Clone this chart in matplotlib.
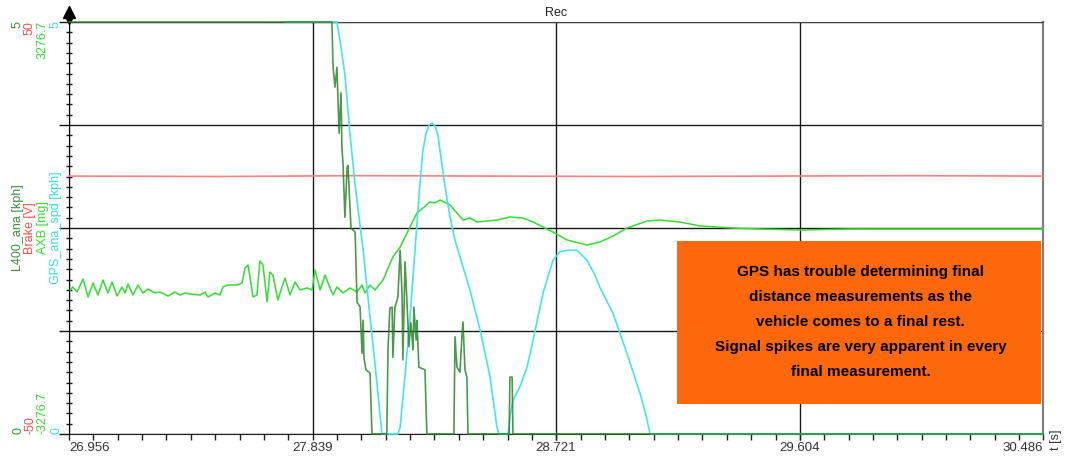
import matplotlib
matplotlib.use('Agg')
import matplotlib.pyplot as plt
from matplotlib.patches import Rectangle
from matplotlib.ticker import AutoMinorLocator, FixedLocator, NullFormatter

plt.rcParams['font.family'] = ['Liberation Sans', 'DejaVu Sans']

# ------------------------------------------------------------
# data
# ------------------------------------------------------------
x_ticklabels = ['26.956', '27.839', '28.721', '29.604', '30.486']

# L400_ana [kph]
l400_t = [26.956, 27.909, 27.913, 27.920, 27.927, 27.931, 27.935, 27.942, 27.945, 27.949,
          27.956, 27.964, 27.967, 27.978, 27.993, 28.000, 28.011, 28.018, 28.022, 28.025,
          28.032, 28.047, 28.054, 28.108, 28.112, 28.119, 28.127, 28.130, 28.137, 28.148,
          28.156, 28.163, 28.166, 28.174, 28.181, 28.188, 28.195, 28.203, 28.206, 28.214,
          28.217, 28.224, 28.246, 28.253, 28.351, 28.355, 28.362, 28.373, 28.380, 28.384,
          28.391, 28.398, 28.402, 28.551, 28.554, 28.562, 28.565, 30.486]
l400_v = [5.0, 5.0, 4.45, 4.21, 4.45, 4.05, 3.65, 4.14, 3.48, 3.29,
          2.63, 3.24, 3.26, 2.50, 2.45, 1.60, 1.54, 0.98, 1.38, 0.93,
          0.78, 0.74, 0.0, 0.0, 1.02, 1.53, 1.54, 0.93, 1.53, 1.66,
          2.23, 1.71, 0.90, 2.09, 1.59, 1.06, 1.35, 1.02, 1.54, 1.14,
          1.38, 0.81, 0.78, 0.0, 0.0, 1.18, 0.81, 0.75, 1.18, 1.36,
          0.78, 0.69, 0.0, 0.0, 0.69, 0.69, 0.0, 0.0]

# Brake [V]
brake_t = [26.956, 27.5, 28.0, 28.5, 29.0, 29.5, 30.0, 30.486]
brake_v = [12.6, 12.5, 12.7, 12.6, 12.5, 12.6, 12.7, 12.6]

# AXB [mg]
axb_t = [26.960, 26.970, 26.985, 27.007, 27.025, 27.043, 27.061, 27.079, 27.097, 27.112,
         27.130, 27.148, 27.159, 27.170, 27.188, 27.206, 27.224, 27.242, 27.268, 27.286,
         27.315, 27.340, 27.358, 27.376, 27.395, 27.431, 27.449, 27.460, 27.485, 27.503,
         27.514, 27.532, 27.565, 27.583, 27.594, 27.605, 27.623, 27.637, 27.648, 27.659,
         27.674, 27.684, 27.695, 27.713, 27.728, 27.739, 27.757, 27.775, 27.793, 27.819,
         27.837, 27.848, 27.866, 27.884, 27.895, 27.913, 27.927, 27.949, 27.974, 28.000,
         28.018, 28.029, 28.047, 28.065, 28.094, 28.130, 28.156, 28.181, 28.217, 28.239,
         28.264, 28.282, 28.301, 28.337, 28.362, 28.384, 28.409, 28.435, 28.471, 28.507,
         28.554, 28.601, 28.638, 28.710, 28.761, 28.833, 28.880, 28.928, 28.978, 29.051,
         29.098, 29.170, 29.243, 29.362, 29.460, 29.605, 29.787, 30.486]
axb_v = [-986, -938, -1018, -811, -1098, -875, -1066, -827, -1034, -859,
         -1082, -938, -1034, -891, -1066, -907, -1034, -970, -1034, -1018,
         -1082, -1018, -1066, -1034, -1050, -1066, -1018, -1098, -1034, -1066,
         -938, -907, -907, -875, -636, -589, -1098, -1066, -525, -589,
         -1177, -700, -748, -1145, -938, -795, -1066, -859, -986, -954,
         -986, -668, -986, -748, -875, -1066, -938, -1034, -954, -1018,
         -907, -1034, -907, -986, -827, -461, -302, -80, 239, 318,
         414, 398, 445, 366, 239, 127, 159, 95, 111, 127,
         175, 159, 95, -64, -191, -270, -223, -127, 0, 111,
         127, 95, 32, 0, -16, -32, -16, -16]

# GPS_ana_spd [kph]
gps_t = [27.739, 27.927, 27.938, 27.956, 27.974, 27.993, 28.022, 28.047, 28.069, 28.090,
         28.148, 28.156, 28.174, 28.192, 28.210, 28.228, 28.239, 28.250, 28.261, 28.272,
         28.282, 28.293, 28.300, 28.318, 28.337, 28.355, 28.373, 28.409, 28.446, 28.482,
         28.507, 28.514, 28.547, 28.558, 28.565, 28.590, 28.616, 28.638, 28.674, 28.710,
         28.735, 28.761, 28.797, 28.833, 28.862, 28.880, 28.927, 28.978, 29.025, 29.047,
         29.062, 30.486]
gps_v = [5.0, 5.0, 4.78, 4.36, 3.65, 3.02, 2.23, 1.42, 0.72, 0.0,
         0.0, 0.08, 0.72, 1.42, 2.23, 3.05, 3.45, 3.65, 3.75, 3.77,
         3.74, 3.63, 3.45, 3.02, 2.63, 2.35, 2.15, 1.75, 1.26, 0.69,
         0.08, 0.0, 0.0, 0.29, 0.41, 0.57, 0.81, 1.14, 1.71, 2.11,
         2.21, 2.23, 2.23, 2.11, 1.93, 1.78, 1.47, 0.98, 0.50, 0.23,
         0.0, 0.0]

channels = ['L400_ana [kph]', 'Brake [V]', 'AXB [mg]', 'GPS_ana_spd [kph]']
ranges = [(0, 5), (-50, 50), (-3276.7, 3276.7), (0, 5)]
line_colors = ['#1f801f', '#ff8080', '#33dd33', '#44e6e6']
label_colors = ['#3f8f3f', '#ff4d4d', '#33dd33', '#33e0e0']

note = ('GPS has trouble determining final\n'
        'distance measurements as the\n'
        'vehicle comes to a final rest.\n'
        'Signal spikes are very apparent in every\n'
        'final measurement.')

# ------------------------------------------------------------
# figure
# ------------------------------------------------------------
W, H = 1069, 459
fig = plt.figure(figsize=(W / 100, H / 100), dpi=100)
ax = fig.add_axes([69 / W, 25 / H, 974 / W, 412 / H])

x_ticks = [float(s) for s in x_ticklabels]
ax.set_xlim(x_ticks[0], x_ticks[-1])
ax.set_ylim(*ranges[0])

ax.set_xticks(x_ticks, x_ticklabels)
ax.xaxis.set_minor_locator(AutoMinorLocator(10))
lbls = ax.get_xticklabels()
lbls[0].set_ha('left')
lbls[-1].set_ha('right')
ax.tick_params(axis='x', which='both', direction='out', length=4, width=1,
               color='#222222', labelsize=9.5, labelcolor='#333333', pad=2)

y0, y1 = ranges[0]
ax.yaxis.set_major_locator(FixedLocator([y0 + k * (y1 - y0) / 4 for k in range(5)]))
ax.yaxis.set_major_formatter(NullFormatter())
ax.yaxis.set_minor_locator(AutoMinorLocator(10))
ax.tick_params(axis='y', which='major', direction='out', length=7, width=1, color='#111111')
ax.tick_params(axis='y', which='minor', direction='inout', length=5, width=1, color='#111111')

ax.grid(True, which='major', color='#1a1a1a', linewidth=1.0)
ax.spines['top'].set_color('#444444')
ax.spines['right'].set_color('#808080')
ax.spines['right'].set_linewidth(1.6)
ax.spines['left'].set_color('#000000')
ax.spines['bottom'].set_color('#222222')
ax.set_title('Rec', fontsize=9, pad=4, color='#222222')

ax_b = ax.twinx()
ax_b.set_ylim(*ranges[1])
ax_b.set_axis_off()
ax_b.plot(brake_t, brake_v, color=line_colors[1], lw=1.2, clip_on=False)

ax_a = ax.twinx()
ax_a.set_ylim(*ranges[2])
ax_a.set_axis_off()
ax_a.plot(axb_t, axb_v, color=line_colors[2], lw=1.1, clip_on=False)

ax_g = ax.twinx()
ax_g.set_ylim(*ranges[3])
ax_g.set_axis_off()
ax_g.plot(gps_t, gps_v, color=line_colors[3], lw=1.2, clip_on=False)

# L400 on top, same scale as the host axis
ax_l = ax.twinx()
ax_l.set_ylim(*ranges[0])
ax_l.set_axis_off()
ax_l.plot(l400_t, l400_v, color=line_colors[0], lw=1.2, alpha=0.8, clip_on=False)

# axis arrow on top of the left spine
ax.plot([0], [1.025], marker='^', color='black', ms=8.5, transform=ax.transAxes, clip_on=False)
ax.plot([0], [1.004], marker='v', color='black', ms=5.5, transform=ax.transAxes, clip_on=False)

# channel labels, stacked on the left
col_x = [18, 30, 43, 56]
for name, (lo, hi), c, xp in zip(channels, ranges, label_colors, col_x):
    fig.text(xp / W, (H - 21) / H, f'{hi:g}', rotation=90, ha='center', va='top',
             color=c, fontsize=9)
    fig.text(xp / W, (H - 434) / H, f'{lo:g}', rotation=90, ha='center', va='bottom',
             color=c, fontsize=9)
    fig.text(xp / W, (H - 228) / H, name, rotation=90, ha='center', va='center',
             color=c, fontsize=9)

fig.text(1056 / W, (H - 440) / H, 't [s]', rotation=90, ha='center', va='center',
         fontsize=9, color='#333333')

# annotation box
box = Rectangle((0.624, 0.073), 0.374, 0.395, transform=ax.transAxes,
                facecolor='#fd680c', edgecolor='none', zorder=5)
fig.add_artist(box)
fig.text(0.813, 0.272, note, transform=ax.transAxes, ha='center', va='center',
         multialignment='center', fontsize=11, fontweight='bold', color='#000000',
         family=['Liberation Sans', 'DejaVu Sans'], linespacing=2.0, zorder=6)

fig.savefig('out.png', dpi=100)
